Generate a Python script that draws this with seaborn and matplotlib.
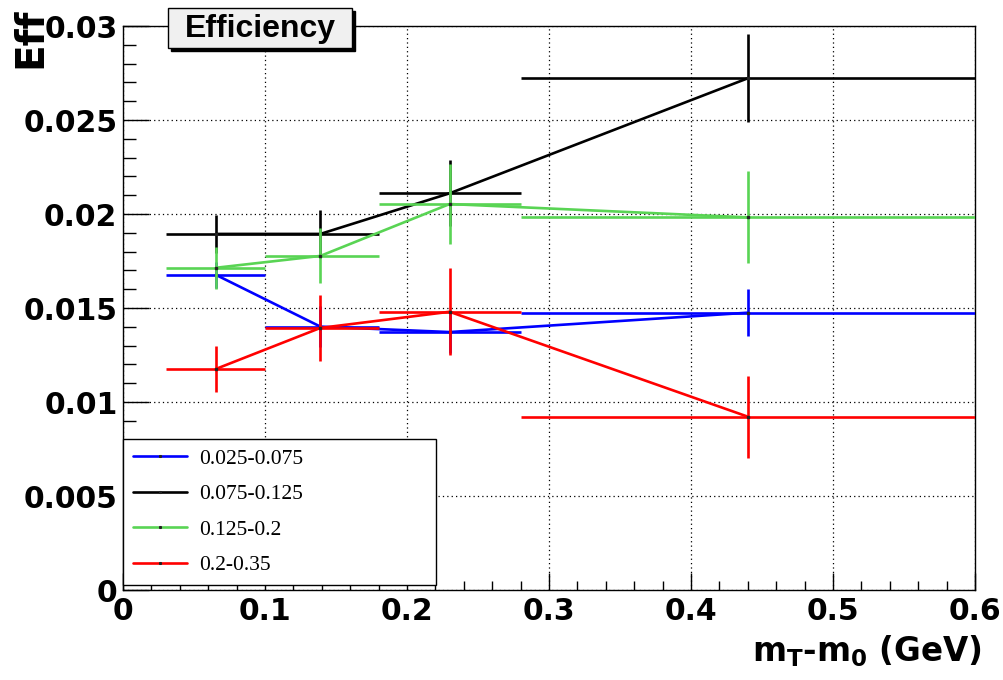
import numpy as np
import pandas as pd
import matplotlib
matplotlib.use("Agg")
import matplotlib.pyplot as plt
import seaborn as sns
from matplotlib.lines import Line2D
from matplotlib.patches import Rectangle
from matplotlib.ticker import MultipleLocator, FixedLocator, FixedFormatter

# pT bins (legend entries) and their colours
bin_labels = ["0.025-0.075", "0.075-0.125", "0.125-0.2", "0.2-0.35"]
bin_colors = ["#0000ff", "#000000", "#59d454", "#ff0000"]

# mT-m0 bins: point positions and bin edges (GeV)
mt_points = [0.0655, 0.139, 0.230, 0.440]
mt_edges = [0.03, 0.10, 0.18, 0.28, 0.60]

# efficiency and its uncertainty per pT bin
eff_025_075 = [0.01676, 0.01401, 0.01372, 0.01475]
err_025_075 = [0.00070, 0.00110, 0.00110, 0.00125]
eff_075_125 = [0.01894, 0.01894, 0.02110, 0.02722]
err_075_125 = [0.00101, 0.00128, 0.00176, 0.00234]
eff_125_200 = [0.01714, 0.01777, 0.02053, 0.01982]
err_125_200 = [0.00112, 0.00146, 0.00213, 0.00245]
eff_200_350 = [0.01176, 0.01394, 0.01480, 0.00922]
err_200_350 = [0.00122, 0.00174, 0.00231, 0.00218]

x_tick_labels = ["0", "0.1", "0.2", "0.3", "0.4", "0.5", "0.6"]
y_tick_labels = ["0", "0.005", "0.01", "0.015", "0.02", "0.025", "0.03"]

effs = [eff_025_075, eff_075_125, eff_125_200, eff_200_350]
errs = [err_025_075, err_075_125, err_125_200, err_200_350]

rows = []
for lab, e, de in zip(bin_labels, effs, errs):
    for x, lo, hi, v, dv in zip(mt_points, mt_edges[:-1], mt_edges[1:], e, de):
        rows.append(dict(bin=lab, mt=x, lo=lo, hi=hi, eff=v, err=dv))
df = pd.DataFrame(rows)

sns.set_theme(style="white")
plt.rcParams["font.family"] = ["DejaVu Sans"]
plt.rcParams["mathtext.fontset"] = "dejavusans"
plt.rcParams["text.color"] = "black"

W, H = 1004, 680
fig = plt.figure(figsize=(W / 100, H / 100), dpi=100)
ax = fig.add_axes([123 / W, 1 - 590 / H, 852 / W, 564 / H])

lw = 1.9
for i, (lab, col) in enumerate(zip(bin_labels, bin_colors)):
    sub = df[df["bin"] == lab]
    sns.lineplot(data=sub, x="mt", y="eff", color=col, lw=lw, sort=False,
                 estimator=None, ax=ax, zorder=3 + i)
    xerr = np.vstack([sub["mt"] - sub["lo"], sub["hi"] - sub["mt"]])
    ax.errorbar(sub["mt"], sub["eff"], xerr=xerr, yerr=sub["err"], fmt="s",
                ms=1.6, mfc="#222222", mec="#222222", ecolor=col,
                elinewidth=lw, capsize=0, zorder=3 + i)

ax.set_xlim(0, 0.6)
ax.set_ylim(0, 0.03)
ax.set_xlabel("")
ax.set_ylabel("")

xt = np.arange(len(x_tick_labels)) * 0.1
yt = np.arange(len(y_tick_labels)) * 0.005
ax.xaxis.set_major_locator(FixedLocator(xt))
ax.xaxis.set_major_formatter(FixedFormatter(x_tick_labels))
ax.yaxis.set_major_locator(FixedLocator(yt))
ax.yaxis.set_major_formatter(FixedFormatter(y_tick_labels))
ax.xaxis.set_minor_locator(MultipleLocator(0.02))
ax.yaxis.set_minor_locator(MultipleLocator(0.001))

ax.tick_params(axis="both", which="both", direction="in", colors="black",
               width=1, bottom=True, left=True, top=False, right=False)
ax.tick_params(axis="x", which="major", length=12.2, pad=5)
ax.tick_params(axis="x", which="minor", length=6.4)
ax.tick_params(axis="y", which="major", length=18.7, pad=4)
ax.tick_params(axis="y", which="minor", length=9.4)
for t in ax.get_xticklabels() + ax.get_yticklabels():
    t.set_fontsize(21.5)
    t.set_fontweight("bold")
    t.set_color("black")

ax.grid(True, which="major", color="black", linestyle=(0, (1, 2.5)), lw=0.9)
for s in ax.spines.values():
    s.set_color("black")
    s.set_linewidth(1)
    s.set_visible(True)

handles = [Line2D([0], [0], color=c, lw=lw, marker="s", ms=1.2,
                  mfc="#222222", mec="#222222") for c in bin_colors]
leg = ax.legend(handles, bin_labels, loc="lower left",
                bbox_to_anchor=(0, 5 / 564, 313 / 852, 0.25), mode="expand",
                borderaxespad=0, borderpad=0.45, labelspacing=0.72,
                handlelength=2.5, handletextpad=0.6, frameon=True,
                fancybox=False, shadow=False, framealpha=1,
                prop=dict(family="Liberation Serif", size=15.5))
leg.get_frame().set_edgecolor("black")
leg.get_frame().set_linewidth(1)
leg.set_zorder(20)

# title box with drop shadow
bx0, by0, bw, bh = 168, 8, 184, 40
fig.add_artist(Rectangle(((bx0 + 3) / W, 1 - (by0 + bh + 3) / H), bw / W, bh / H,
                         transform=fig.transFigure, facecolor="black",
                         edgecolor="black", lw=1, zorder=9))
fig.add_artist(Rectangle((bx0 / W, 1 - (by0 + bh) / H), bw / W, bh / H,
                         transform=fig.transFigure, facecolor="#f0f0f0",
                         edgecolor="black", lw=1, zorder=10))
fig.text((bx0 + bw / 2) / W, 1 - (by0 + bh / 2 + 1) / H, "Efficiency",
         ha="center", va="center", fontsize=23, fontweight="bold",
         family="Liberation Sans", color="black", zorder=11)

fig.text(30 / W, 1 - 8 / H, "Eff", rotation=90, ha="center", va="top",
         fontsize=28, fontweight="bold", color="black")
fig.text(982 / W, 1 - 651 / H, r"m$_{\mathbf{T}}$-m$_{\mathbf{0}}$ (GeV)",
         ha="right", va="center", fontsize=23.5, fontweight="bold",
         color="black")

fig.savefig("out.png", dpi=100)
